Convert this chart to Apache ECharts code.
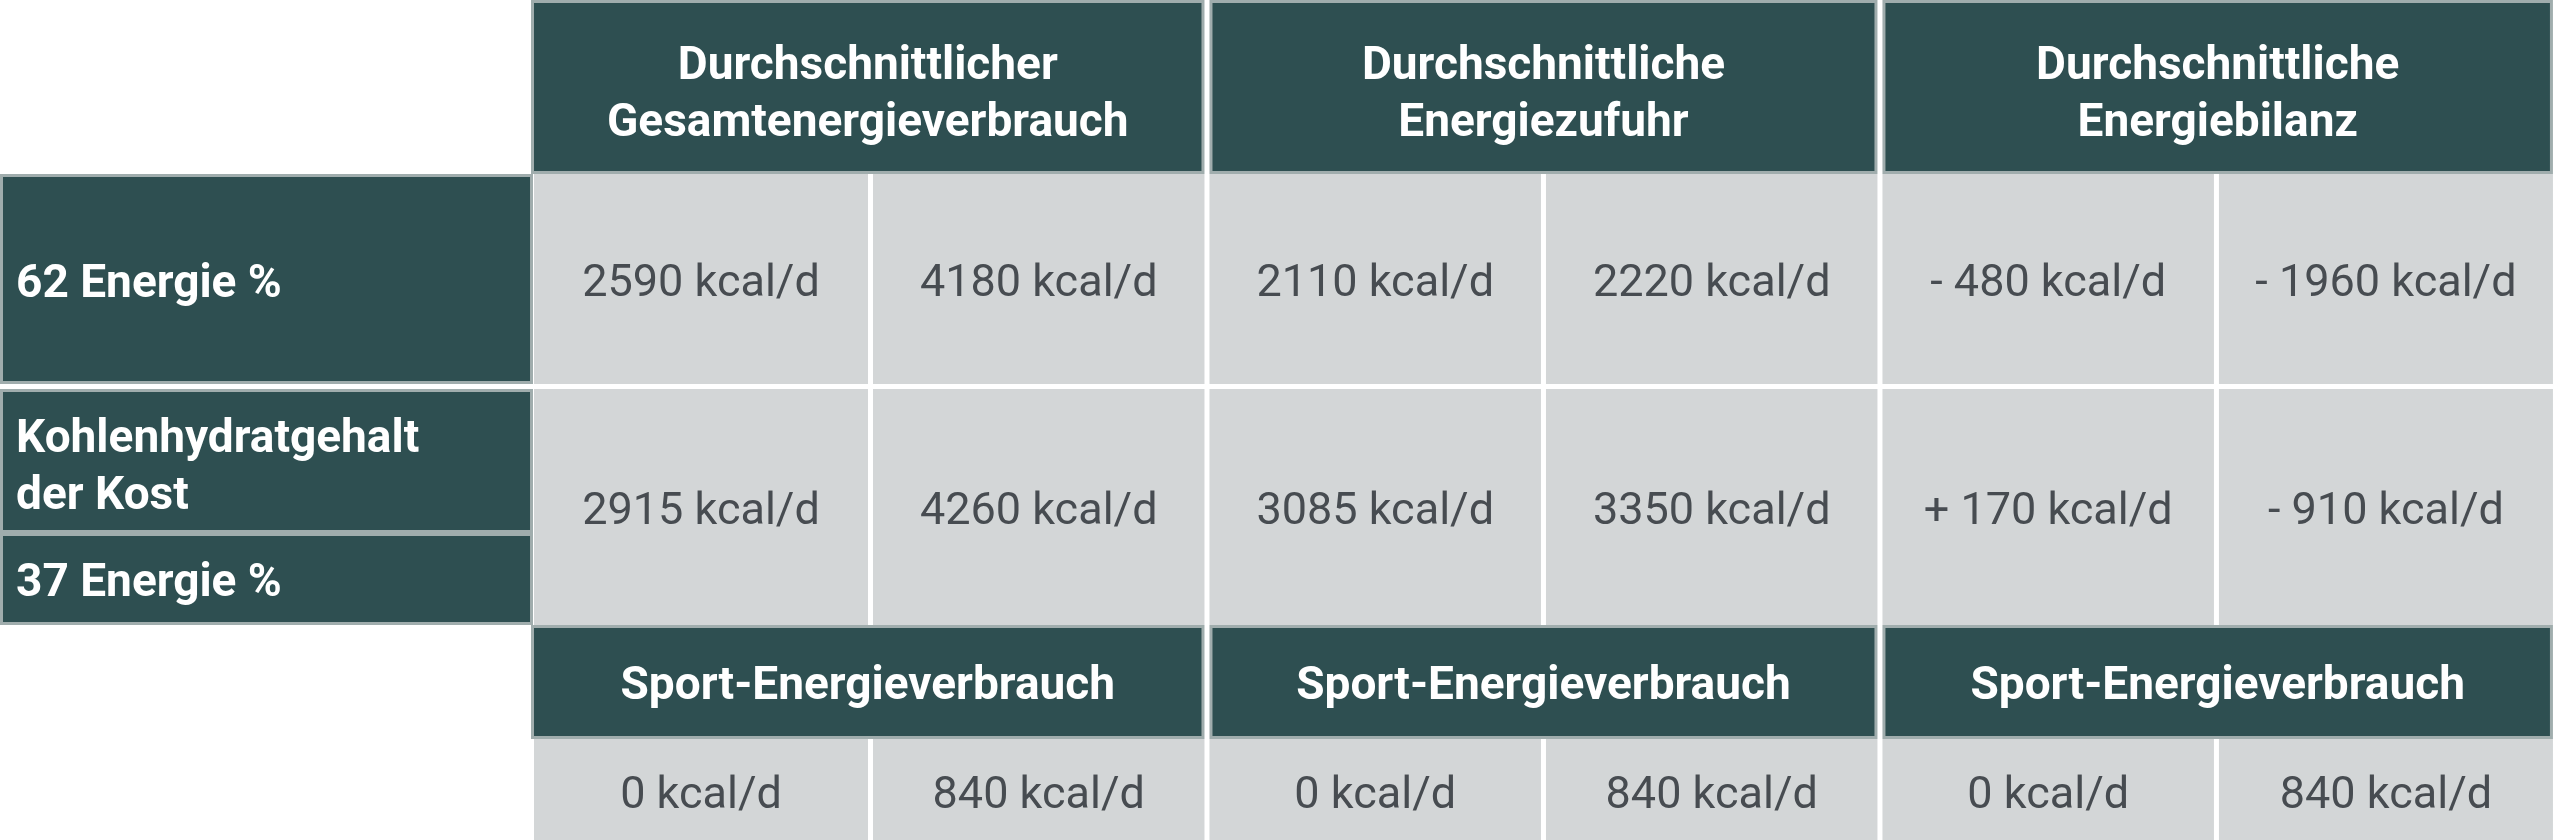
<!DOCTYPE html>
<html>
<head>
<meta charset="utf-8">
<script src="https://cdn.jsdelivr.net/npm/echarts@6/dist/echarts.min.js"></script>
<style>
  html, body { margin: 0; padding: 0; background: #ffffff; }
  #chart { width: 2560px; height: 840px; }
</style>
</head>
<body>
<div id="chart"></div>
<script>
// ---------------- data ----------------
const groupHeaders = ['Durchschnittlicher\nGesamtenergieverbrauch', 'Durchschnittliche\nEnergiezufuhr', 'Durchschnittliche\nEnergiebilanz'];
const rowLabels = ['62 Energie %', 'Kohlenhydratgehalt\nder Kost', '37 Energie %'];
const energy62 = [2590, 4180, 2110, 2220, -480, -1960];
const energy37 = [2915, 4260, 3085, 3350, 170, -910];
const sportHeader = 'Sport-Energieverbrauch';
const sportValues = [0, 840, 0, 840, 0, 840];
const unit = 'kcal/d';
const signedColumns = [4, 5]; // Energiebilanz columns show a sign

// ---------------- layout (structure of the table, in axis units) ----------------
const LABEL_SPAN = 1.587;      // label column width in sub-column units
const RIGHT_PAD = 0.021;
const Y_MAX = 840;
const ROWS = {
  head: [0, 174], r1: [174, 384], r2: [389, 625],
  r2a: [389, 533], r2b: [533, 625],
  sportHead: [625, 739], sportData: [739, 880]
};
const COLORS = { dark: '#2e4f51', border: '#a0adad', cell: '#d3d6d7', text: '#474c51', white: '#ffffff' };
const FONT = 'Roboto, "Noto Sans", sans-serif';

function fmt(v, signed) {
  if (signed && v < 0) return '- ' + Math.abs(v) + ' ' + unit;
  if (signed && v > 0) return '+ ' + v + ' ' + unit;
  return v + ' ' + unit;
}

const cells = [];
function addDark(x0, x1, rows, text, align, inset, shift) {
  cells.push({ x0, x1, y0: rows[0], y1: rows[1], kind: 'dark', text, align, inset, shift });
}
function addData(i, rows, text) {
  cells.push({ x0: i, x1: i + 1, y0: rows[0], y1: rows[1], kind: 'data', text, align: 'center',
    inset: [0, i < 5 ? 2.5 : 0, 0, i > 0 ? 2.5 : 0], shift: 6 });
}

groupHeaders.forEach((h, g) => addDark(2 * g, 2 * g + 2, ROWS.head, h, 'center', [0, g < 2 ? 2.5 : 0, 0, g > 0 ? 2.5 : -3], 9));
addDark(-LABEL_SPAN, 0, ROWS.r1, rowLabels[0], 'left', [0, 1, 0, 0], 6);
addDark(-LABEL_SPAN, 0, ROWS.r2a, rowLabels[1], 'left', [0, 1, 0, 0], 8);
addDark(-LABEL_SPAN, 0, ROWS.r2b, rowLabels[2], 'left', [0, 1, 0, 0], 5);
energy62.forEach((v, i) => addData(i, ROWS.r1, fmt(v, signedColumns.includes(i))));
energy37.forEach((v, i) => addData(i, ROWS.r2, fmt(v, signedColumns.includes(i))));
groupHeaders.forEach((h, g) => addDark(2 * g, 2 * g + 2, ROWS.sportHead, sportHeader, 'center', [0, g < 2 ? 2.5 : 0, 0, g > 0 ? 2.5 : -3], 5));
sportValues.forEach((v, i) => addData(i, ROWS.sportData, fmt(v, false)));

const chart = echarts.init(document.getElementById('chart'), null, { renderer: 'canvas' });

chart.setOption({
  animation: false,
  backgroundColor: '#ffffff',
  grid: { left: 0, right: 0, top: 0, bottom: 0 },
  xAxis: { type: 'value', min: -LABEL_SPAN, max: 6 + RIGHT_PAD, show: false },
  yAxis: { type: 'value', min: 0, max: Y_MAX, inverse: true, show: false },
  series: [{
    type: 'custom',
    clip: false,
    data: cells.map(c => [c.x0, c.x1, c.y0, c.y1]),
    renderItem: function (params, api) {
      const c = cells[params.dataIndex];
      const a = api.coord([api.value(0), api.value(2)]);
      const b = api.coord([api.value(1), api.value(3)]);
      const ins = c.inset;
      const x = a[0] + ins[3], y = a[1] + ins[0];
      const w = b[0] - a[0] - ins[1] - ins[3], h = b[1] - a[1] - ins[0] - ins[2];
      const children = [];
      if (c.kind === 'dark') {
        children.push({ type: 'rect', shape: { x, y, width: w, height: h }, style: { fill: COLORS.border } });
        children.push({ type: 'rect', shape: { x: x + 3, y: y + 3, width: w - 6, height: h - 6 }, style: { fill: COLORS.dark } });
      } else {
        children.push({ type: 'rect', shape: { x, y, width: w, height: h }, style: { fill: COLORS.cell } });
      }
      const cy = (c.kind === 'data' && c.y1 > Y_MAX ? y + 52 : y + h / 2) + c.shift;
      children.push({
        type: 'text',
        style: {
          text: c.text,
          x: c.align === 'left' ? x + 16 : x + w / 2,
          y: cy,
          align: c.align,
          verticalAlign: 'middle',
          fill: c.kind === 'dark' ? COLORS.white : COLORS.text,
          fontFamily: FONT,
          fontWeight: c.kind === 'dark' ? 'bold' : 'normal',
          fontSize: c.kind === 'dark' ? 46 : 45,
          lineHeight: 57
        }
      });
      return { type: 'group', children };
    }
  }]
});
</script>
</body>
</html>
